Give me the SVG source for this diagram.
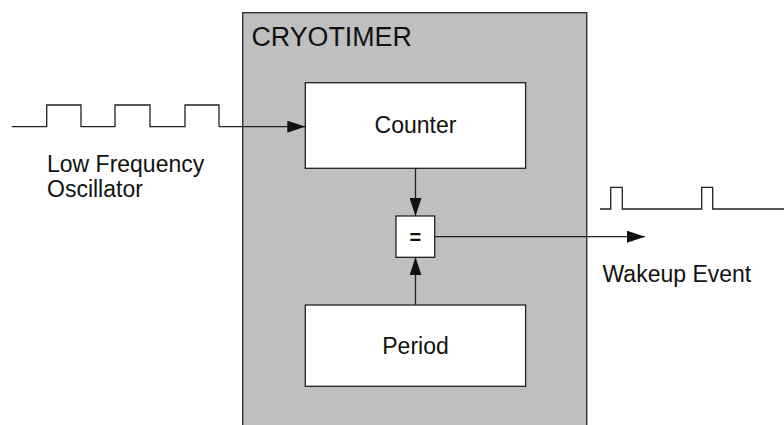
<svg xmlns="http://www.w3.org/2000/svg" width="784" height="425" viewBox="0 0 784 425">
  <defs>
    <style>
      text { font-family: "Liberation Sans", Arial, sans-serif; fill: #111; }
      .lbl { font-size: 23px; }
      .box { fill: #ffffff; stroke: #222; stroke-width: 1.3; }
      .wire { fill: none; stroke: #222; stroke-width: 1.3; }
    </style>
    <marker id="arr" viewBox="0 0 18 12" refX="18" refY="6" markerWidth="18" markerHeight="12" markerUnits="userSpaceOnUse" orient="auto">
      <path d="M0,0 L18,6 L0,12 Z" fill="#111"/>
    </marker>
  </defs>
  <rect width="784" height="425" fill="#ffffff"/>

  <g id="cryotimer">
    <rect x="242.7" y="12.7" width="344" height="430" fill="#bfbfbf" stroke="#333" stroke-width="1.4"/>
    <text x="251.5" y="45.5" style="font-size:26.8px">CRYOTIMER</text>
  </g>

  <g id="counter">
    <rect class="box" x="305.3" y="82.7" width="220.3" height="85.6"/>
    <text class="lbl" x="415.5" y="133" text-anchor="middle">Counter</text>
  </g>

  <g id="compare">
    <rect class="box" x="396" y="216" width="38.7" height="41.3"/>
    <text class="lbl" x="415.4" y="244" text-anchor="middle" style="font-weight:bold;font-size:20px">=</text>
  </g>

  <g id="period">
    <rect class="box" x="305.3" y="305" width="220.3" height="81.3"/>
    <text class="lbl" x="415.5" y="353.5" text-anchor="middle">Period</text>
  </g>

  <g id="lfo">
    <path class="wire" d="M11.7,126.7 H46.7 V105 H81 V126.7 H115 V105 H150 V126.7 H185 V105 H219 V126.7"/>
    <text class="lbl" x="47" y="171.7">Low Frequency</text>
    <text class="lbl" x="47" y="196.7">Oscillator</text>
  </g>

  <g id="wakeup">
    <path class="wire" d="M600,209 H610.7 V187.3 H622.3 V209 H701.7 V187.3 H712.7 V209 H784"/>
    <text class="lbl" x="602.5" y="281.7">Wakeup Event</text>
  </g>

  <g id="connectors">
    <path class="wire" d="M219,126.7 H305.3" marker-end="url(#arr)"/>
    <path class="wire" d="M415.5,168.3 V216" marker-end="url(#arr)"/>
    <path class="wire" d="M415.5,305 V257.3" marker-end="url(#arr)"/>
    <path class="wire" d="M434.7,236.7 H645" marker-end="url(#arr)"/>
  </g>
</svg>
